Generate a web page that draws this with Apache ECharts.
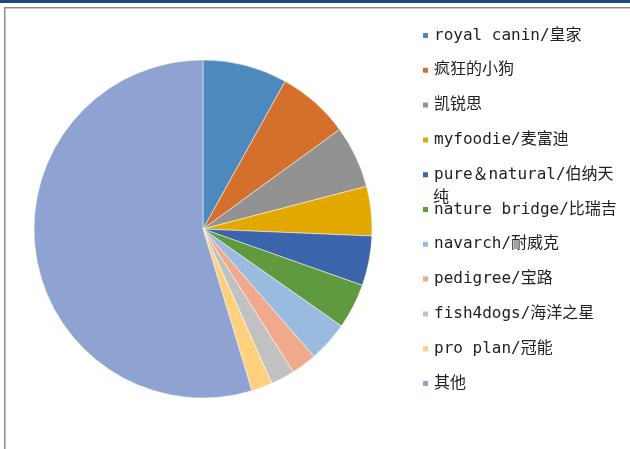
<!DOCTYPE html>
<html>
<head>
<meta charset="utf-8">
<script src="https://cdn.jsdelivr.net/npm/echarts@6/dist/echarts.min.js"></script>
<style>html,body{margin:0;padding:0;background:#fff}#c{width:630px;height:449px}</style>
</head>
<body>
<div id="c"></div>
<script>
const categories = ["royal canin/皇家","疯狂的小狗","凯锐思","myfoodie/麦富迪","pure＆natural/伯纳天纯","nature bridge/比瑞吉","navarch/耐威克","pedigree/宝路","fish4dogs/海洋之星","pro plan/冠能","其他"];
const shares = [8.08, 6.90, 5.96, 4.72, 4.75, 4.32, 3.87, 2.44, 2.29, 2.00, 54.67];
const colors = ["#4E89BD","#D4702B","#929292","#E2A900","#3C64AD","#5F9A3E","#99BBE0","#F0A98B","#C1C1C1","#FFD17F","#8FA3D3"];

const chart = echarts.init(document.getElementById('c'), null, {renderer:'canvas'});
const font = "'DejaVu Sans Mono','Noto Sans CJK SC',monospace";
chart.setOption({
  animation:false,
  color: colors,
  legend:{
    orient:'vertical', left:416, top:20, itemWidth:7, itemHeight:7, itemGap:13.8,
    icon:'rect',
    data: categories,
    formatter: function(n){ return n === "pure＆natural/伯纳天纯" ? "pure＆natural/伯纳天" : n; },
    textStyle:{fontFamily:font, fontSize:16, color:'#222', lineHeight:16, padding:[5,0,0,0]}
  },
  graphic:[
    {type:'rect', shape:{x:0,y:0,width:630,height:3}, style:{fill:'#1A4A7B'}},
    {type:'rect', shape:{x:4,y:7,width:626,height:1.5}, style:{fill:'#8C8C8C'}},
    {type:'rect', shape:{x:4,y:7,width:1.5,height:442}, style:{fill:'#8C8C8C'}},
    {type:'text', left:433, top:190, style:{text:'纯', font:"16px "+font, fill:'#222'}}
  ],
  series:[{
    type:'pie', center:[203,229], radius:169, startAngle:90, clockwise:true,
    label:{show:false}, labelLine:{show:false},
    itemStyle:{borderColor:'#fff', borderWidth:0.5},
    emphasis:{disabled:true},
    data: categories.map((c,i)=>({name:c, value:shares[i]}))
  }]
});
</script>
</body>
</html>
